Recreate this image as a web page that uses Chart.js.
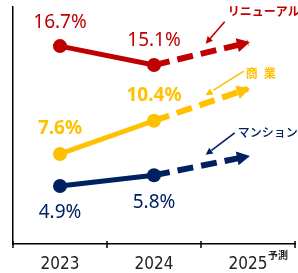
<!DOCTYPE html>
<html>
<head>
<meta charset="utf-8">
<script src="https://cdn.jsdelivr.net/npm/chart.js@4"></script>
<style>
  html, body { margin: 0; padding: 0; background: #fff; }
  #wrap { width: 298px; height: 273px; }
</style>
</head>
<body>
<div id="wrap"><canvas id="trendChart"></canvas></div>
<script>
// data
const years = ['2023', '2024', '2025'];
const renewal = [16.7, 15.1, null];
const renewalForecast = [null, 15.1, 17.0];
const commercial = [7.6, 10.4, null];
const commercialForecast = [null, 10.4, 13.1];
const condo = [4.9, 5.8, null];
const condoForecast = [null, 5.8, 7.4];
const seriesNames = ['リニューアル', '商\u2002業', 'マンション'];
const forecastNote = '予測';

const RED = '#C00000', YELLOW = '#FFC000', NAVY = '#002060';
const seriesColors = [RED, YELLOW, NAVY];
const labelWeights = ['normal', 'bold', 'normal'];
const labelOffsets = [-24, -25, 27];      // value label above / below the point
const nameWeights = ['bold', 'bold', '500'];
// pointer arrow: tip above the dashed line, tail and text relative to tip
const pointers = [
  { lift: 9,  tail: [19, -22], text: [3, -10] },
  { lift: 8,  tail: [38, -24], text: [2, 2] },
  { lift: 10, tail: [29, -22], text: [3, 0] }
];

function solid(data, color) {
  return {
    data: data, borderColor: color, backgroundColor: color,
    borderWidth: 5, pointRadius: 7, pointHoverRadius: 7,
    pointBackgroundColor: color, pointBorderWidth: 0, spanGaps: false
  };
}
function dashed(data, color) {
  return {
    data: data, borderColor: color, backgroundColor: color,
    borderWidth: 6, borderDash: [16, 8], borderCapStyle: 'butt',
    pointRadius: 0, pointHoverRadius: 0, spanGaps: false
  };
}

function arrowHead(ctx, x1, y1, x2, y2, len, half, color) {
  const a = Math.atan2(y2 - y1, x2 - x1);
  ctx.save();
  ctx.translate(x2, y2);
  ctx.rotate(a);
  ctx.fillStyle = color;
  ctx.beginPath();
  ctx.moveTo(0, 0);
  ctx.lineTo(-len, -half);
  ctx.lineTo(-len, half);
  ctx.closePath();
  ctx.fill();
  ctx.restore();
}

const decorations = {
  id: 'decorations',
  afterDatasetsDraw(chart) {
    const ctx = chart.ctx;
    const xs = chart.scales.x;
    const area = chart.chartArea;

    // tick marks across the x axis at category boundaries
    ctx.save();
    ctx.strokeStyle = '#000';
    ctx.lineWidth = 1.5;
    const n = years.length;
    for (let i = 0; i <= n; i++) {
      const x = xs.left + i * (xs.right - xs.left) / n;
      ctx.beginPath();
      ctx.moveTo(x, area.bottom - 3);
      ctx.lineTo(x, area.bottom + 4);
      ctx.stroke();
    }
    ctx.restore();

    for (let s = 0; s < 3; s++) {
      const color = seriesColors[s];
      const act = chart.getDatasetMeta(s * 2).data;
      const fc = chart.getDatasetMeta(s * 2 + 1).data;
      const values = chart.data.datasets[s * 2].data;

      // value labels
      ctx.save();
      ctx.fillStyle = color;
      ctx.font = labelWeights[s] + ' 19px "Noto Sans", sans-serif';
      ctx.textAlign = 'center';
      ctx.textBaseline = 'middle';
      for (let i = 0; i < values.length; i++) {
        if (values[i] == null) continue;
        ctx.fillText(values[i].toFixed(1) + '%', act[i].x, act[i].y + labelOffsets[s]);
      }
      ctx.restore();

      // forecast arrow head
      const p1 = fc[1], p2 = fc[2];
      const d = Math.hypot(p2.x - p1.x, p2.y - p1.y);
      const ux = (p2.x - p1.x) / d, uy = (p2.y - p1.y) / d;
      arrowHead(ctx, p1.x, p1.y, p2.x + ux * 2, p2.y + uy * 2, 13, 7, color);

      // pointer arrow with series name
      const pc = pointers[s];
      const mx = p1.x + 0.55 * (p2.x - p1.x);
      const my = p1.y + 0.55 * (p2.y - p1.y);
      const tipX = mx, tipY = my - pc.lift;
      const tailX = tipX + pc.tail[0], tailY = tipY + pc.tail[1];
      ctx.save();
      ctx.strokeStyle = color;
      ctx.lineWidth = 1.6;
      ctx.beginPath();
      ctx.moveTo(tailX, tailY);
      ctx.lineTo(tipX + (tailX - tipX) * 0.2, tipY + (tailY - tipY) * 0.2);
      ctx.stroke();
      ctx.restore();
      arrowHead(ctx, tailX, tailY, tipX, tipY, 7, 3.5, color);

      ctx.save();
      ctx.fillStyle = color;
      ctx.font = nameWeights[s] + ' 12px "Noto Sans CJK JP", sans-serif';
      ctx.textAlign = 'left';
      ctx.textBaseline = 'middle';
      ctx.fillText(seriesNames[s], tailX + pc.text[0], tailY + pc.text[1]);
      ctx.restore();
    }

    // forecast note next to the last year
    const lastX = xs.getPixelForValue(years.length - 1);
    ctx.save();
    ctx.fillStyle = '#222';
    ctx.font = 'bold 10px "Noto Sans CJK JP", sans-serif';
    ctx.textAlign = 'left';
    ctx.textBaseline = 'middle';
    ctx.fillText(forecastNote, lastX + 20, area.bottom + 11);
    ctx.restore();
  }
};

const chart = new Chart(document.getElementById('trendChart'), {
  type: 'line',
  data: {
    labels: years,
    datasets: [
      solid(renewal, RED), dashed(renewalForecast, RED),
      solid(commercial, YELLOW), dashed(commercialForecast, YELLOW),
      solid(condo, NAVY), dashed(condoForecast, NAVY)
    ]
  },
  options: {
    responsive: true,
    maintainAspectRatio: false,
    animation: false,
    events: [],
    layout: {
      autoPadding: false,
      padding: { left: 13, right: 3, top: 7, bottom: -12 }
    },
    plugins: { legend: { display: false }, tooltip: { enabled: false } },
    scales: {
      x: {
        offset: true,
        grid: { display: false, drawTicks: false },
        border: { display: true, color: '#000', width: 1.5 },
        ticks: {
          padding: 12,
          color: '#222',
          font: { family: '"Liberation Sans Narrow", "DejaVu Sans Condensed", "Liberation Sans", sans-serif', size: 17, lineHeight: 1 }
        }
      },
      y: {
        min: 0, max: 20,
        grid: { display: false, drawTicks: false },
        border: { display: true, color: '#000', width: 1.5 },
        ticks: { display: false }
      }
    }
  },
  plugins: [decorations]
});
</script>
</body>
</html>
